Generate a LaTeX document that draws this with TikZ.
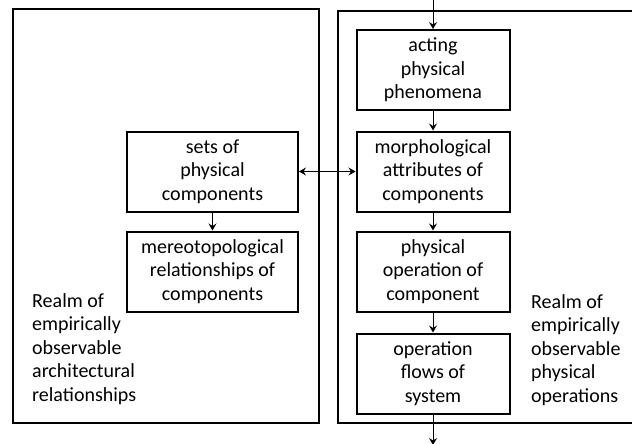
\documentclass[tikz,border=0pt]{standalone}
\usepackage{fontspec}
\setmainfont{Carlito}
\usetikzlibrary{arrows.meta}
\tikzset{
    %Define standard arrow tip
    >={Stealth[length=7pt,width=8pt,inset=2.5pt]}
}

\begin{document}
\begin{tikzpicture}[x=1pt, y=-1pt, font=\fontsize{20}{23.6}\selectfont,
	stepbox/.style={draw, line width=2pt, minimum width=171pt, minimum height=80pt, inner sep=0pt, align=center},
	realm/.style={draw, line width=2pt, inner sep=0pt},
	realmtext/.style={anchor=north west, inner sep=0pt, align=left},
	flow/.style={->, line width=1pt}]

	\clip (0, 0) rectangle (632, 444);

	% the two realms
	\node (archrealm) at (165.5, 216) [realm, minimum width=306pt, minimum height=414pt] {};
	\node (physrealm) at (499, 217) [realm, minimum width=322pt, minimum height=412pt] {};
	\node (archlabel) at (32, 293) [realmtext] {Realm of\\empirically\\observable\\architectural\\relationships};
	\node (physlabel) at (531, 294) [realmtext] {Realm of\\empirically\\observable\\physical\\operations};

	% architectural side
	\node (sets) at (212.5, 171.5) [stepbox] {sets of\\physical\\components};
	\node (mereo) at (212.5, 271.5) [stepbox] {mereotopological\\relationships of\\components};

	% physical side
	\node (acting) at (433, 70) [stepbox, minimum width=153pt] {acting\\physical\\phenomena};
	\node (morph) at (433, 171.5) [stepbox, minimum width=153pt] {morphological\\attributes of\\components};
	\node (physop) at (433, 271.5) [stepbox, minimum width=153pt] {physical\\operation of\\component};
	\node (flows) at (433, 373.5) [stepbox, minimum width=153pt] {operation\\flows of\\system};

	\coordinate (input) at (433, 0);
	\coordinate (output) at (433, 445);

	\draw[flow] (input) -- (acting);
	\draw[flow] (acting) -- (morph);
	\draw[flow] (morph) -- (physop);
	\draw[flow] (physop) -- (flows);
	\draw[flow] (flows) -- (output);
	\draw[flow] (sets) -- (mereo);
	\draw[flow, <->] (sets) -- (morph);

\end{tikzpicture}
\end{document}
